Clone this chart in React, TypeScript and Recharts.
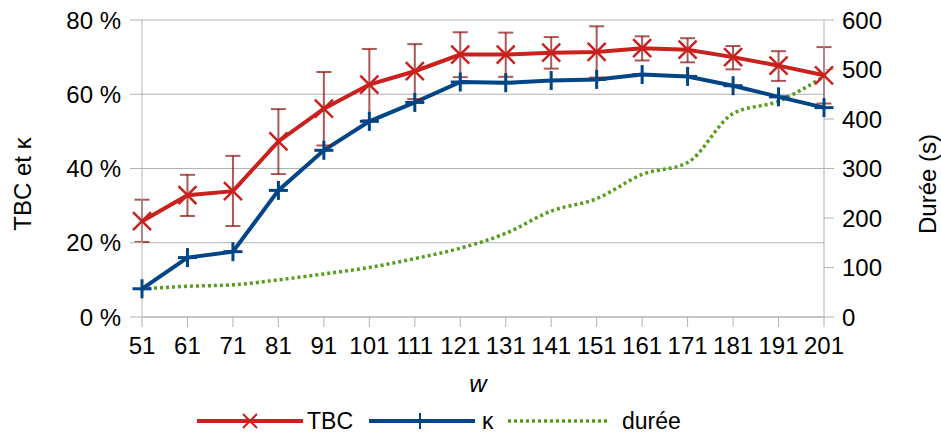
import { CartesianGrid, ErrorBar, Legend, Line, LineChart, XAxis, YAxis } from "recharts";

const windows = ["51", "61", "71", "81", "91", "101", "111", "121", "131", "141", "151", "161", "171", "181", "191", "201"];
const tbc = [25.8, 32.8, 33.9, 47.3, 56.1, 62.6, 66.2, 70.7, 70.7, 71.2, 71.4, 72.4, 72.0, 70.0, 67.7, 65.1];
const tbcHigh = [31.6, 38.3, 43.4, 56.0, 66.0, 72.2, 73.5, 76.7, 76.6, 75.4, 78.3, 75.6, 75.1, 73.0, 71.6, 72.7];
const tbcLow = [20.2, 27.2, 24.5, 38.5, 46.2, 53.0, 58.7, 64.6, 64.7, 66.9, 64.5, 69.1, 68.6, 66.7, 63.6, 57.5];
const kappa = [7.6, 16.0, 17.6, 34.1, 44.9, 52.7, 57.8, 63.3, 63.1, 63.7, 64.0, 65.3, 64.8, 62.3, 59.3, 56.4];
const duree = [57, 62, 65, 75, 87, 100, 118, 139, 169, 214, 239, 288, 312, 411, 436, 486];

const pctTicks = [0, 20, 40, 60, 80];
const secTicks = [0, 100, 200, 300, 400, 500, 600];

const RED = "#c9211e";
const BLUE = "#004586";
const GREEN = "#579d1c";
const GRID = "#b3b3b3";
const FONT = "'Liberation Sans', Arial, sans-serif";

const data = windows.map((w, i) => ({
  w,
  tbc: tbc[i],
  tbcErr: [+(tbc[i] - tbcLow[i]).toFixed(1), +(tbcHigh[i] - tbc[i]).toFixed(1)],
  kappa: kappa[i],
  duree: duree[i],
}));

const tickStyle = { fill: "#000", fontSize: 24, fontFamily: FONT };

function CrossDot(props: any) {
  const { cx, cy, index } = props;
  if (cx == null || cy == null) return null;
  const r = 9;
  return (
    <g key={`x-${index}`}>
      <line x1={cx - r} y1={cy - r} x2={cx + r} y2={cy + r} stroke={RED} strokeWidth={2.5} />
      <line x1={cx - r} y1={cy + r} x2={cx + r} y2={cy - r} stroke={RED} strokeWidth={2.5} />
    </g>
  );
}

function PlusDot(props: any) {
  const { cx, cy, index } = props;
  if (cx == null || cy == null) return null;
  const r = 9.5;
  return (
    <g key={`p-${index}`}>
      <line x1={cx - r} y1={cy} x2={cx + r} y2={cy} stroke={BLUE} strokeWidth={3} />
      <line x1={cx} y1={cy - r} x2={cx} y2={cy + r} stroke={BLUE} strokeWidth={3} />
    </g>
  );
}

function LegendBox() {
  const item = (left: number, textLeft: number, label: string, kind: string) => (
    <div key={label}>
      <svg width={106} height={20} style={{ position: "absolute", left, top: 6 }}>
        {kind === "tbc" && (
          <g>
            <line x1={0} y1={10} x2={106} y2={10} stroke={RED} strokeWidth={4} />
            <line x1={46} y1={3} x2={60} y2={17} stroke={RED} strokeWidth={2} />
            <line x1={46} y1={17} x2={60} y2={3} stroke={RED} strokeWidth={2} />
          </g>
        )}
        {kind === "kappa" && (
          <g>
            <line x1={0} y1={10} x2={106} y2={10} stroke={BLUE} strokeWidth={4} />
            <line x1={51} y1={2} x2={51} y2={18} stroke={BLUE} strokeWidth={2} />
          </g>
        )}
        {kind === "duree" && (
          <line x1={0} y1={10} x2={100} y2={10} stroke={GREEN} strokeWidth={3.5} strokeDasharray="3 3" />
        )}
      </svg>
      <span style={{ position: "absolute", left: textLeft, top: 2, fontSize: 23, fontFamily: FONT, color: "#000", lineHeight: "28px" }}>
        {label}
      </span>
    </div>
  );
  return (
    <div style={{ position: "relative", width: 941, height: 32 }}>
      {item(197, 307, "TBC", "tbc")}
      {item(369, 482, "κ", "kappa")}
      {item(508, 622, "durée", "duree")}
    </div>
  );
}

export default function App() {
  return (
    <div style={{ position: "absolute", left: 0, top: 0, background: "#fff" }}>
      <LineChart width={941} height={437} data={data} margin={{ top: 20, right: 0, bottom: 0, left: 0 }}>
        <CartesianGrid yAxisId="left" vertical={false} stroke={GRID} />
        <XAxis
          dataKey="w"
          height={88}
          interval={0}
          tick={tickStyle}
          tickSize={10}
          tickMargin={10}
          stroke={GRID}
          tickLine={{ stroke: GRID }}
          label={{
            content: (p: any) => {
              const vb = p.viewBox || { x: 142, y: 317, width: 682 };
              return (
                <text x={478} y={vb.y + 66} textAnchor="middle" dominantBaseline="central" fontSize={24} fontStyle="italic" fontFamily={FONT} fill="#000">
                  w
                </text>
              );
            },
          }}
        />
        <YAxis
          yAxisId="left"
          width={142}
          domain={[0, 80]}
          ticks={pctTicks}
          tickFormatter={(v) => `${v} %`}
          tick={tickStyle}
          tickSize={12}
          tickMargin={9}
          stroke={GRID}
          allowDataOverflow
          label={{
            content: () => (
              <text x={22} y={184} textAnchor="middle" dominantBaseline="central" fontSize={24} fontFamily={FONT} fill="#000" transform="rotate(-90 22 184)">
                TBC et κ
              </text>
            ),
          }}
        />
        <YAxis
          yAxisId="right"
          orientation="right"
          width={117}
          domain={[0, 600]}
          ticks={secTicks}
          tick={tickStyle}
          tickSize={10}
          tickMargin={8}
          stroke={GRID}
          allowDataOverflow
          label={{
            content: () => (
              <text x={927} y={184} textAnchor="middle" dominantBaseline="central" fontSize={24} fontFamily={FONT} fill="#000" transform="rotate(-90 927 184)">
                Durée (s)
              </text>
            ),
          }}
        />
        <Legend verticalAlign="bottom" content={() => <LegendBox />} wrapperStyle={{ left: 0, bottom: 0, width: 941, height: 32 }} />
        <Line
          yAxisId="right"
          dataKey="duree"
          name="durée"
          type="monotone"
          stroke={GREEN}
          strokeWidth={3.5}
          strokeDasharray="3 3"
          dot={false}
          isAnimationActive={false}
        />
        <Line
          yAxisId="left"
          dataKey="kappa"
          name="κ"
          type="linear"
          stroke={BLUE}
          strokeWidth={4}
          dot={PlusDot}
          isAnimationActive={false}
        />
        <Line
          yAxisId="left"
          dataKey="tbc"
          name="TBC"
          type="linear"
          stroke={RED}
          strokeWidth={4}
          dot={CrossDot}
          isAnimationActive={false}
        >
          <ErrorBar dataKey="tbcErr" width={7.5} stroke="#8b1010" strokeOpacity={0.7} strokeWidth={2} isAnimationActive={false} />
        </Line>
      </LineChart>
    </div>
  );
}
